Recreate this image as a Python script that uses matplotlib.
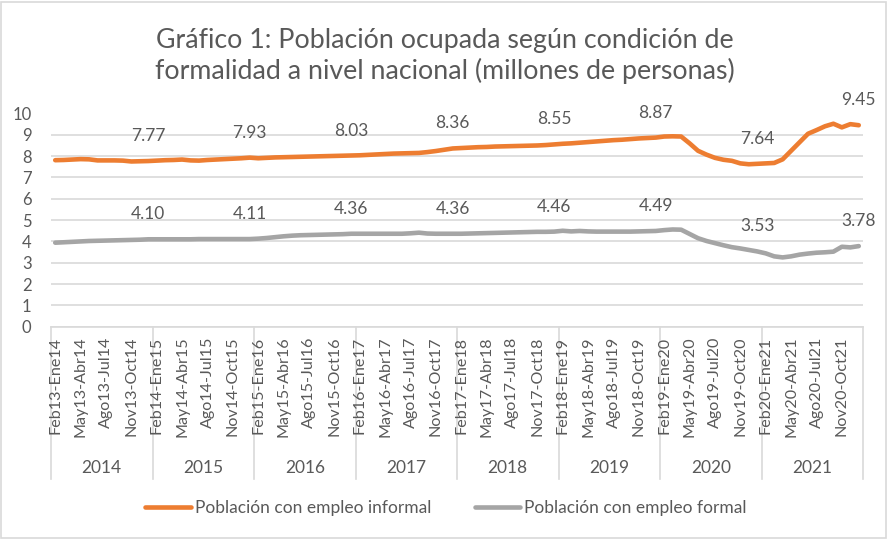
import matplotlib
matplotlib.use("Agg")
import matplotlib.pyplot as plt
from matplotlib.transforms import blended_transform_factory
from matplotlib.patches import Rectangle

plt.rcParams['font.family'] = ['Lato', 'DejaVu Sans']

years = ["2014", "2015", "2016", "2017", "2018", "2019", "2020", "2021"]

# Category labels (12-month rolling windows), one per month Ene..Dic of each year
cat_labels = []
for y in range(14, 22):
    ends = ["Ene", "Feb", "Mar", "Abr", "May", "Jun", "Jul", "Ago", "Sep", "Oct", "Nov", "Dic"]
    starts = ["Feb", "Mar", "Abr", "May", "Jun", "Jul", "Ago", "Sep", "Oct", "Nov", "Dic", "Ene"]
    for m in range(12):
        sy = y - 1 if m < 11 else y
        cat_labels.append(f"{starts[m]}{sy}-{ends[m]}{y}")

informal = [
    7.81, 7.82, 7.84, 7.86, 7.85, 7.80, 7.80, 7.80, 7.79, 7.75, 7.76, 7.77,
    7.79, 7.81, 7.82, 7.84, 7.80, 7.79, 7.82, 7.84, 7.86, 7.88, 7.90, 7.93,
    7.90, 7.92, 7.94, 7.95, 7.96, 7.97, 7.98, 7.99, 8.00, 8.01, 8.02, 8.03,
    8.04, 8.06, 8.08, 8.10, 8.12, 8.13, 8.14, 8.15, 8.19, 8.24, 8.30, 8.36,
    8.38, 8.40, 8.42, 8.43, 8.45, 8.46, 8.47, 8.48, 8.49, 8.50, 8.52, 8.55,
    8.58, 8.60, 8.63, 8.66, 8.69, 8.72, 8.75, 8.77, 8.80, 8.83, 8.85, 8.87,
    8.92, 8.93, 8.92, 8.60, 8.25, 8.07, 7.92, 7.83, 7.78, 7.66, 7.62, 7.64,
    7.66, 7.68, 7.85, 8.25, 8.65, 9.05, 9.22, 9.40, 9.52, 9.35, 9.50, 9.45,
]
formal = [
    3.94, 3.96, 3.98, 4.00, 4.02, 4.03, 4.04, 4.05, 4.06, 4.07, 4.08, 4.10,
    4.10, 4.10, 4.10, 4.10, 4.10, 4.11, 4.11, 4.11, 4.11, 4.11, 4.11, 4.11,
    4.13, 4.16, 4.20, 4.24, 4.27, 4.29, 4.30, 4.31, 4.32, 4.33, 4.34, 4.36,
    4.36, 4.36, 4.36, 4.36, 4.36, 4.36, 4.38, 4.41, 4.37, 4.36, 4.36, 4.36,
    4.36, 4.37, 4.38, 4.39, 4.40, 4.41, 4.42, 4.43, 4.44, 4.45, 4.45, 4.46,
    4.50, 4.47, 4.49, 4.47, 4.46, 4.46, 4.46, 4.46, 4.46, 4.47, 4.48, 4.49,
    4.53, 4.56, 4.55, 4.35, 4.15, 4.02, 3.92, 3.82, 3.73, 3.67, 3.60, 3.53,
    3.44, 3.30, 3.25, 3.30, 3.38, 3.43, 3.47, 3.49, 3.52, 3.75, 3.72, 3.78,
]
series_names = ["Población con empleo informal", "Población con empleo formal"]
colors = ["#ED7D31", "#A5A5A5"]
title = "Gráfico 1: Población ocupada según condición de\nformalidad a nivel nacional (millones de personas)"

TXT = "#595959"
GRID = "#D9D9D9"

W, H = 888, 539
fig = plt.figure(figsize=(W / 100, H / 100), dpi=100)
ax = fig.add_axes([51 / W, 1 - 326.7 / H, (863 - 51) / W, (326.7 - 113.5) / H])

n = len(informal)
x = list(range(n))
l1, = ax.plot(x, informal, color=colors[0], lw=3.3, solid_capstyle='round', solid_joinstyle='round', label=series_names[0], zorder=3)
l2, = ax.plot(x, formal, color=colors[1], lw=3.3, solid_capstyle='round', solid_joinstyle='round', label=series_names[1], zorder=3)

ax.set_xlim(-0.5, n - 0.5)
ax.set_ylim(0, 10)
ax.set_yticks(range(0, 11))
ax.yaxis.grid(True, color=GRID, lw=1.2)
ax.set_axisbelow(True)
for s in ["top", "right", "left"]:
    ax.spines[s].set_visible(False)
ax.spines["bottom"].set_color(GRID)
ax.spines["bottom"].set_linewidth(1.2)
ax.tick_params(axis='y', length=0, labelsize=12, labelcolor=TXT, pad=14)
ax.tick_params(axis='x', length=0, labelbottom=False)

# data labels at December of each year
for yi in range(len(years)):
    i = yi * 12 + 11
    for vals in (informal, formal):
        ax.annotate(f"{vals[i]:.2f}", (i, vals[i]), xytext=(0, 18), textcoords='offset points',
                    ha='center', va='center', fontsize=12.5, color=TXT)

# category tick labels every 3 months
tr = blended_transform_factory(ax.transData, ax.transAxes)
ax_h = 326.7 - 113.5
for i in range(0, n, 3):
    ax.text(i, -10 / ax_h, cat_labels[i], transform=tr, rotation=90, ha='center', va='top',
            fontsize=11.6, color=TXT)
# year separators and year labels
for yi in range(len(years) + 1):
    xb = yi * 12 - 0.5
    ax.plot([xb, xb], [0, -152 / ax_h], transform=tr, color=GRID, lw=1.2, clip_on=False)
for yi, yl in enumerate(years):
    ax.text(yi * 12 + 5.5, -(468 - 326.7) / ax_h, yl, transform=tr, ha='center', va='center',
            fontsize=12.5, color=TXT)

fig.text(445 / W, 1 - 56 / H, title, ha='center', va='center', fontsize=19.3, color=TXT, linespacing=1.2)

fig.legend(handles=[l1, l2], loc='center', bbox_to_anchor=(446 / W, 1 - 508 / H), ncol=2, frameon=False,
           fontsize=12.5, labelcolor=TXT, handlelength=2.6, handletextpad=0.25, columnspacing=2.5)

fig.patches.append(Rectangle((1 / W, 1 / H), (W - 3) / W, (H - 3) / H, transform=fig.transFigure,
                             fill=False, edgecolor=GRID, lw=1.2))

fig.savefig("out.png", dpi=100, facecolor="white")
